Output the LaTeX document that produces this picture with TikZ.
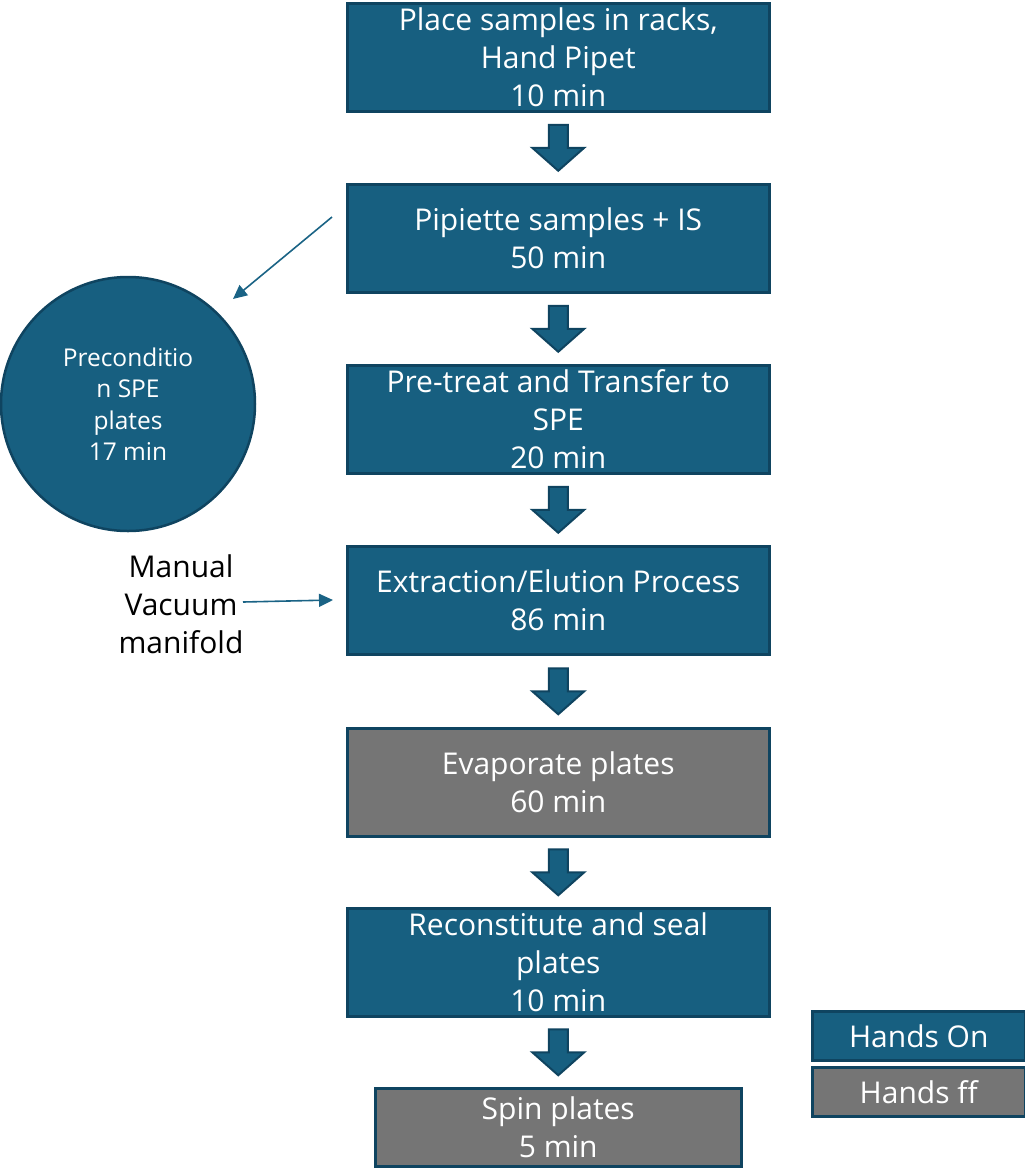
\documentclass[tikz,border=0pt]{standalone}
\usepackage{fontspec}
\setmainfont{Open Sans}
\usetikzlibrary{calc,arrows.meta}
\definecolor{blueF}{HTML}{175F80}
\definecolor{blueD}{HTML}{0F4460}
\definecolor{greyF}{HTML}{757575}
\definecolor{lineB}{HTML}{1A6385}
\tikzset{
  stepbox/.style={draw=blueD, line width=2.5pt, fill=blueF, text=white, minimum width=422pt, minimum height=108pt, inner sep=0pt, align=center, font=\fontsize{30}{38}\selectfont, anchor=north west},
  offbox/.style={stepbox, fill=greyF},
  blockarrow/.style={draw=blueD, line width=2pt, fill=blueF, line join=miter},
  thinarrow/.style={draw=lineB, line width=1.6pt, -{Triangle[length=14pt,width=13pt]}},
}
\newcommand{\blockarr}[2]{%
  \path ($(#1.south)!0.5!(#2.north)$) coordinate (m#1);
  \draw[blockarrow] ($(m#1)+(-9.5,-23)$) -- ($(m#1)+(9.5,-23)$) -- ($(m#1)+(9.5,0)$) -- ($(m#1)+(26,0)$) -- ($(m#1)+(0,23)$) -- ($(m#1)+(-26,0)$) -- ($(m#1)+(-9.5,0)$) -- cycle;}
\begin{document}
\begin{tikzpicture}[x=1pt,y=-1pt]
\useasboundingbox (0,0) rectangle (1025,1168);
\node[stepbox] (b1) at (346,2) {Place samples in racks,\\Hand Pipet\\10 min};
\node[stepbox] (b2) at (346,183) {Pipiette samples + IS\\50 min};
\node[stepbox] (b3) at (346,364) {Pre-treat and Transfer to\\SPE\\20 min};
\node[stepbox] (b4) at (346,545) {Extraction/Elution Process\\86 min};
\node[offbox] (b5) at (346,727) {Evaporate plates\\60 min};
\node[stepbox] (b6) at (346,907) {Reconstitute and seal\\plates\\10 min};
\node[offbox, minimum width=366pt, minimum height=78pt] (b7) at (374,1087) {Spin plates\\5 min};
\blockarr{b1}{b2}
\blockarr{b2}{b3}
\blockarr{b3}{b4}
\blockarr{b4}{b5}
\blockarr{b5}{b6}
\blockarr{b6}{b7}
\node[circle, draw=blueD, line width=2.5pt, fill=blueF, text=white, minimum size=254pt, inner sep=0pt, align=center, font=\fontsize{24.5}{31.5}\selectfont] (c) at (128,404) {Preconditio\\n SPE\\plates\\17 min};
\coordinate (s1) at (332,217);
\draw[thinarrow] (s1) -- (233,299);
\node[align=center, font=\fontsize{30}{38}\selectfont, text=black] (mv) at (181,604) {Manual\\Vacuum\\manifold};
\coordinate (t1) at (333,600);
\draw[thinarrow] (243,602) -- (t1);
\node[stepbox, minimum width=213pt, minimum height=49pt] (l1) at (811,1010) {Hands On};
\node[offbox, minimum width=213pt, minimum height=49pt] (l2) at (811,1066) {Hands ff};
\end{tikzpicture}
\end{document}
